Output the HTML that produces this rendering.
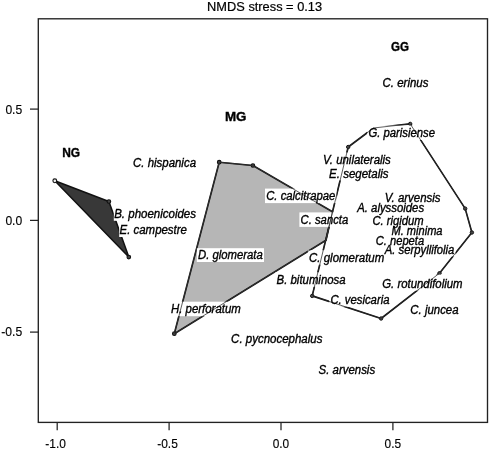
<!DOCTYPE html>
<html><head><meta charset="utf-8"><title>NMDS</title>
<style>
html,body{margin:0;padding:0;background:#fff;}
#w{width:490px;height:449px;overflow:hidden;will-change:transform;transform:translateZ(0);}
svg{display:block;font-family:"Liberation Sans",sans-serif;}
.sp{font-style:italic;font-size:12px;fill:#000;stroke:#000;stroke-width:0.35px;}
.ax{font-size:13px;fill:#000;stroke:#000;stroke-width:0.15px;}
.grp{font-weight:bold;font-size:12.5px;fill:#000;stroke:#000;stroke-width:0.35px;}
</style></head><body><div id="w">
<svg width="490" height="449" viewBox="0 0 490 449">
<rect x="0" y="0" width="490" height="449" fill="#fff"/>

<polygon points="54.8,180.8 108.9,201.5 128.8,257.1" fill="#383838" stroke="#111" stroke-width="1.5" stroke-linejoin="round"/>
<polygon points="174.3,333.7 219.2,162.2 252.9,165.5 332.5,211.8 326.0,240.2" fill="#b6b6b6" stroke="#151515" stroke-width="1.65" stroke-linejoin="round"/>
<polygon points="348.2,147.0 373.5,128.0 410.2,123.9 465.2,208.6 471.9,232.5 439.5,273.2 381.1,318.5 312.2,295.9" fill="none" stroke="#151515" stroke-width="1.65" stroke-linejoin="round"/>
<circle cx="54.8" cy="180.8" r="1.9" fill="#eee" stroke="#111" stroke-width="1.1"/>
<circle cx="108.9" cy="201.5" r="1.8" fill="#444" stroke="#111" stroke-width="1.1"/>
<circle cx="128.8" cy="257.1" r="1.8" fill="#444" stroke="#111" stroke-width="1.1"/>
<circle cx="174.3" cy="333.7" r="1.8" fill="#444" stroke="#111" stroke-width="1.1"/>
<circle cx="219.2" cy="162.2" r="1.8" fill="#444" stroke="#111" stroke-width="1.1"/>
<circle cx="252.9" cy="165.5" r="1.8" fill="#444" stroke="#111" stroke-width="1.1"/>
<circle cx="348.2" cy="147.0" r="1.7" fill="#555" stroke="#111" stroke-width="1.0"/>
<circle cx="410.2" cy="123.9" r="1.7" fill="#555" stroke="#111" stroke-width="1.0"/>
<circle cx="465.2" cy="208.6" r="1.7" fill="#555" stroke="#111" stroke-width="1.0"/>
<circle cx="471.9" cy="232.5" r="1.7" fill="#555" stroke="#111" stroke-width="1.0"/>
<circle cx="439.5" cy="273.2" r="1.7" fill="#555" stroke="#111" stroke-width="1.0"/>
<circle cx="381.1" cy="318.5" r="1.7" fill="#555" stroke="#111" stroke-width="1.0"/>
<circle cx="312.2" cy="295.9" r="1.7" fill="#555" stroke="#111" stroke-width="1.0"/>
<rect x="390.3" y="223.3" width="53.4" height="14.5" fill="#fff"/>
<rect x="383.6" y="241.9" width="72.0" height="14.5" fill="#fff"/>
<rect x="383.6" y="190.7" width="58.1" height="14.5" fill="#fff"/>
<rect x="356.0" y="200.5" width="69.3" height="14.5" fill="#fff"/>
<rect x="371.2" y="213.6" width="53.6" height="14.5" fill="#fff"/>
<rect x="374.6" y="233.4" width="50.7" height="14.5" fill="#fff"/>
<rect x="131.9" y="155.1" width="65.3" height="14.5" fill="#fff"/>
<rect x="113.8" y="206.3" width="83.4" height="14.5" fill="#fff"/>
<rect x="119.2" y="222.5" width="68.9" height="14.5" fill="#fff"/>
<rect x="196.8" y="248.2" width="67.2" height="13.8" fill="#fff"/>
<rect x="169.8" y="301.7" width="72.2" height="14.5" fill="#fff"/>
<rect x="265.0" y="188.6" width="71.6" height="14.5" fill="#fff"/>
<rect x="299.4" y="212.4" width="50.0" height="14.5" fill="#fff"/>
<rect x="307.9" y="250.2" width="77.6" height="14.5" fill="#fff"/>
<rect x="275.4" y="272.3" width="71.4" height="14.5" fill="#fff"/>
<rect x="329.2" y="292.2" width="61.5" height="14.5" fill="#fff"/>
<rect x="229.9" y="330.9" width="93.7" height="14.5" fill="#fff"/>
<rect x="317.4" y="361.9" width="58.9" height="14.5" fill="#fff"/>
<rect x="321.8" y="152.5" width="70.2" height="14.5" fill="#fff"/>
<rect x="327.9" y="165.9" width="61.9" height="14.5" fill="#fff"/>
<rect x="381.4" y="75.7" width="48.2" height="14.5" fill="#fff"/>
<rect x="367.2" y="125.5" width="69.0" height="14.5" fill="#fff"/>
<rect x="381.0" y="274.6" width="82.8" height="16.0" fill="#fff"/>
<rect x="409.1" y="301.9" width="50.7" height="14.5" fill="#fff"/>
<polygon points="348.2,147.0 373.5,128.0 410.2,123.9 465.2,208.6 471.9,232.5 439.5,273.2 381.1,318.5 312.2,295.9" fill="none" stroke="#2a2a2a" stroke-width="0.75"/>
<polygon points="174.3,333.7 219.2,162.2 252.9,165.5 332.5,211.8 326.0,240.2" fill="none" stroke="#333" stroke-width="0.8"/>
<text class="sp" x="391.5" y="235.0" textLength="51.0" lengthAdjust="spacingAndGlyphs">M. minima</text>
<text class="sp" x="384.8" y="253.6" textLength="69.6" lengthAdjust="spacingAndGlyphs">A. serpyllifolia</text>
<text class="sp" x="384.8" y="202.4" textLength="55.7" lengthAdjust="spacingAndGlyphs">V. arvensis</text>
<text class="sp" x="357.2" y="212.2" textLength="66.9" lengthAdjust="spacingAndGlyphs">A. alyssoides</text>
<text class="sp" x="372.4" y="225.3" textLength="51.2" lengthAdjust="spacingAndGlyphs">C. rigidum</text>
<text class="sp" x="375.8" y="245.1" textLength="48.3" lengthAdjust="spacingAndGlyphs">C. nepeta</text>
<text class="sp" x="133.1" y="166.8" textLength="62.9" lengthAdjust="spacingAndGlyphs">C. hispanica</text>
<text class="sp" x="114.2" y="218.0" textLength="81.8" lengthAdjust="spacingAndGlyphs">B. phoenicoides</text>
<text class="sp" x="119.6" y="234.2" textLength="67.3" lengthAdjust="spacingAndGlyphs">E. campestre</text>
<text class="sp" x="198.0" y="258.9" textLength="64.8" lengthAdjust="spacingAndGlyphs">D. glomerata</text>
<text class="sp" x="171.0" y="313.4" textLength="69.8" lengthAdjust="spacingAndGlyphs">H. perforatum</text>
<text class="sp" x="266.2" y="200.3" textLength="69.2" lengthAdjust="spacingAndGlyphs">C. calcitrapae</text>
<text class="sp" x="300.6" y="224.1" textLength="47.6" lengthAdjust="spacingAndGlyphs">C. sancta</text>
<text class="sp" x="309.1" y="261.9" textLength="75.2" lengthAdjust="spacingAndGlyphs">C. glomeratum</text>
<text class="sp" x="276.6" y="284.0" textLength="69.0" lengthAdjust="spacingAndGlyphs">B. bituminosa</text>
<text class="sp" x="330.4" y="303.9" textLength="59.1" lengthAdjust="spacingAndGlyphs">C. vesicaria</text>
<text class="sp" x="231.1" y="342.6" textLength="91.3" lengthAdjust="spacingAndGlyphs">C. pycnocephalus</text>
<text class="sp" x="318.6" y="373.6" textLength="56.5" lengthAdjust="spacingAndGlyphs">S. arvensis</text>
<text class="sp" x="323.0" y="164.2" textLength="67.8" lengthAdjust="spacingAndGlyphs">V. unilateralis</text>
<text class="sp" x="329.1" y="177.6" textLength="59.5" lengthAdjust="spacingAndGlyphs">E. segetalis</text>
<text class="sp" x="382.6" y="87.4" textLength="45.8" lengthAdjust="spacingAndGlyphs">C. erinus</text>
<text class="sp" x="368.4" y="137.2" textLength="66.6" lengthAdjust="spacingAndGlyphs">G. parisiense</text>
<text class="sp" x="382.2" y="287.9" textLength="80.4" lengthAdjust="spacingAndGlyphs">G. rotundifolium</text>
<text class="sp" x="410.3" y="313.6" textLength="48.3" lengthAdjust="spacingAndGlyphs">C. juncea</text>
<rect x="38.3" y="18.8" width="449.2" height="403.6" fill="none" stroke="#222" stroke-width="1.35"/>
<line x1="57.2" y1="422.4" x2="57.2" y2="430.2" stroke="#222" stroke-width="1.25"/>
<line x1="169.1" y1="422.4" x2="169.1" y2="430.2" stroke="#222" stroke-width="1.25"/>
<line x1="281.0" y1="422.4" x2="281.0" y2="430.2" stroke="#222" stroke-width="1.25"/>
<line x1="392.9" y1="422.4" x2="392.9" y2="430.2" stroke="#222" stroke-width="1.25"/>
<line x1="30.0" y1="109.1" x2="38.3" y2="109.1" stroke="#222" stroke-width="1.25"/>
<line x1="30.0" y1="220.4" x2="38.3" y2="220.4" stroke="#222" stroke-width="1.25"/>
<line x1="30.0" y1="332.1" x2="38.3" y2="332.1" stroke="#222" stroke-width="1.25"/>
<text class="ax" x="45.3" y="447.5" textLength="20.6" lengthAdjust="spacingAndGlyphs">-1.0</text>
<text class="ax" x="157.2" y="447.5" textLength="20.6" lengthAdjust="spacingAndGlyphs">-0.5</text>
<text class="ax" x="272.7" y="447.5" textLength="16.5" lengthAdjust="spacingAndGlyphs">0.0</text>
<text class="ax" x="384.6" y="447.5" textLength="16.5" lengthAdjust="spacingAndGlyphs">0.5</text>
<text class="ax" x="5.4" y="113.7" textLength="16.8" lengthAdjust="spacingAndGlyphs">0.5</text>
<text class="ax" x="5.4" y="224.6" textLength="16.8" lengthAdjust="spacingAndGlyphs">0.0</text>
<text class="ax" x="1.3" y="335.9" textLength="20.900000000000002" lengthAdjust="spacingAndGlyphs">-0.5</text>
<text class="grp" x="62.2" y="156.9" textLength="17.9" lengthAdjust="spacingAndGlyphs">NG</text>
<text class="grp" x="224.9" y="120.5" textLength="21.5" lengthAdjust="spacingAndGlyphs">MG</text>
<text class="grp" x="391.0" y="50.9" textLength="18.0" lengthAdjust="spacingAndGlyphs">GG</text>
<text x="207.1" y="10.8" font-size="12px" fill="#000" stroke="#000" stroke-width="0.2" textLength="115" lengthAdjust="spacingAndGlyphs">NMDS stress = 0.13</text>
</svg></div></body></html>
